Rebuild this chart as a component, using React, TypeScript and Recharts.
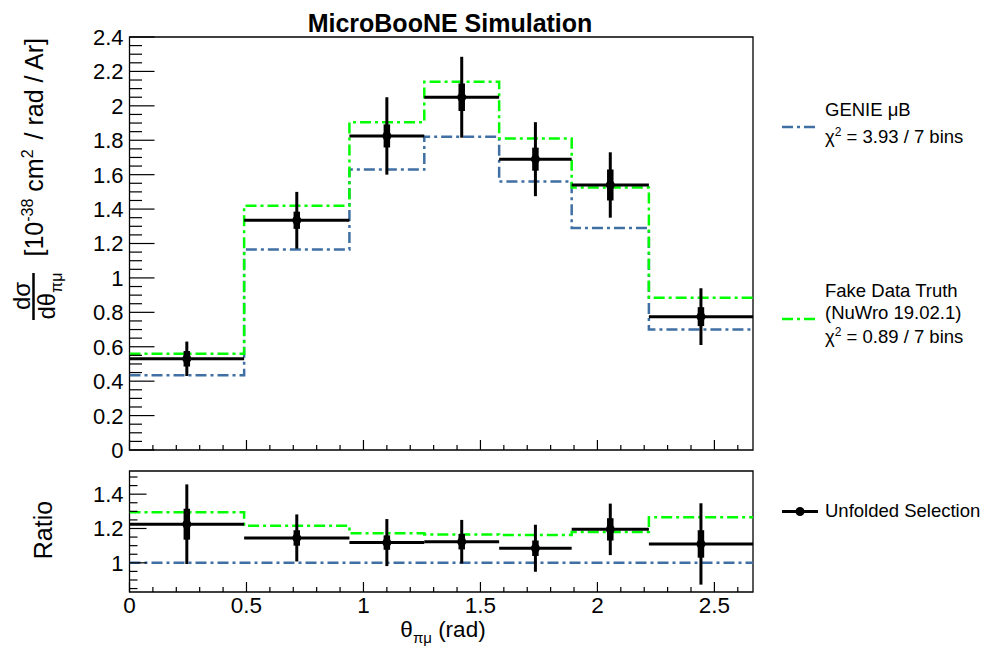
import React from "react";
import {
  ComposedChart,
  Line,
  Scatter,
  XAxis,
  YAxis,
  ErrorBar,
  ReferenceArea,
} from "recharts";

// bin edges in theta_pimu (rad)
const binEdges = [0, 0.49, 0.94, 1.26, 1.58, 1.89, 2.22, 2.665];

// cross section, 10^-38 cm^2 / rad / Ar
const unfolded = [0.53, 1.335, 1.825, 2.05, 1.69, 1.54, 0.775];
const unfoldedTotErr = [0.1, 0.165, 0.225, 0.235, 0.215, 0.19, 0.165];
const unfoldedStatErr = [0.045, 0.05, 0.067, 0.08, 0.067, 0.09, 0.055];
const genie = [0.435, 1.165, 1.63, 1.82, 1.56, 1.29, 0.7];
const nuwro = [0.56, 1.42, 1.905, 2.14, 1.81, 1.525, 0.885];

// ratio to GENIE
const ratioUnfolded = [1.225, 1.145, 1.118, 1.123, 1.085, 1.195, 1.11];
const ratioTotErr = [0.232, 0.137, 0.137, 0.127, 0.137, 0.15, 0.237];
const ratioStatErr = [0.09, 0.045, 0.042, 0.045, 0.045, 0.065, 0.08];
const ratioGenie = [1, 1, 1, 1, 1, 1, 1];
const ratioNuwro = [1.294, 1.216, 1.172, 1.165, 1.162, 1.18, 1.265];

// tick labels
const xMajorTicks = [0, 0.5, 1, 1.5, 2, 2.5];
const yMajorTicksTop = [0, 0.2, 0.4, 0.6, 0.8, 1, 1.2, 1.4, 1.6, 1.8, 2, 2.2, 2.4];
const yMajorTicksRatio = [1, 1.2, 1.4];

const X_MAX = binEdges[binEdges.length - 1];
const TOP_DOMAIN: [number, number] = [0, 2.4];
const RATIO_DOMAIN: [number, number] = [0.83, 1.535];

const FONT = "'Liberation Sans', Arial, Helvetica, sans-serif";
const BLUE = "#3f6fa3";
const GREEN = "#00ff00";
const DASH = "11 4 3 4";

function tickRange(lo: number, hi: number, step: number) {
  const out: number[] = [];
  for (let i = Math.ceil(lo / step - 1e-9); i * step <= hi + 1e-9; i++) {
    out.push(Number((i * step).toFixed(3)));
  }
  return out;
}

const isMajor = (v: number, majors: number[]) => majors.some((m) => Math.abs(m - v) < 1e-6);
const fmt = (v: number) => String(Number(v.toFixed(2)));

const steps = (vals: number[]) =>
  binEdges.map((x, i) => ({ x, y: vals[Math.min(i, vals.length - 1)] }));

const points = (vals: number[], tot: number[], stat: number[]) =>
  vals.map((y, i) => {
    const lo = binEdges[i];
    const hi = binEdges[i + 1];
    const c = (lo + hi) / 2;
    return { x: c, y, ex: [c - lo, hi - c], eTot: tot[i], eStat: stat[i] };
  });

const makeYTick = (majors: number[], majorLen: number, minorLen: number) => (props: any) => {
  const { x, y, payload } = props;
  const v = payload.value;
  const major = isMajor(v, majors);
  return (
    <g>
      <line x1={x} x2={x + (major ? majorLen : minorLen)} y1={y} y2={y} stroke="#000" strokeWidth={1.2} />
      {major && (
        <text x={x - 6} y={y} dy="0.36em" textAnchor="end" fontSize={22} fontFamily={FONT} fill="#000">
          {fmt(v)}
        </text>
      )}
    </g>
  );
};

const makeXTick = (showLabel: boolean) => (props: any) => {
  const { x, y, payload } = props;
  const v = payload.value;
  const major = isMajor(v, xMajorTicks);
  return (
    <g>
      <line x1={x} x2={x} y1={y} y2={y - (major ? 10 : 5)} stroke="#000" strokeWidth={1.2} />
      {showLabel && major && (
        <text x={x} y={y + 21} textAnchor="middle" fontSize={22.5} fontFamily={FONT} fill="#000">
          {fmt(v)}
        </text>
      )}
    </g>
  );
};

const Dot = (p: any) => <circle cx={p.cx} cy={p.cy} r={4.5} fill="#000" />;

const xTicks = tickRange(0, X_MAX, 0.1);
const topYTicks = tickRange(TOP_DOMAIN[0], TOP_DOMAIN[1], 0.05);
const ratioYTicks = tickRange(RATIO_DOMAIN[0], RATIO_DOMAIN[1], 0.05);

function Panel(props: {
  height: number;
  margin: { top: number; right: number; bottom: number; left: number };
  xHeight: number;
  domain: [number, number];
  yTicks: number[];
  yMajors: number[];
  majorLen: number;
  minorLen: number;
  showXLabels: boolean;
  genieVals: number[];
  nuwroVals: number[];
  dataVals: number[];
  tot: number[];
  stat: number[];
}) {
  return (
    <ComposedChart width={987} height={props.height} margin={props.margin}>
      <XAxis
        type="number"
        dataKey="x"
        domain={[0, X_MAX]}
        allowDataOverflow
        ticks={xTicks}
        interval={0}
        height={props.xHeight}
        tickSize={0}
        tickMargin={0}
        axisLine={false}
        tickLine={false}
        tick={makeXTick(props.showXLabels)}
      />
      <YAxis
        type="number"
        domain={props.domain}
        allowDataOverflow
        ticks={props.yTicks}
        interval={0}
        width={60}
        tickSize={0}
        tickMargin={0}
        axisLine={false}
        tickLine={false}
        tick={makeYTick(props.yMajors, props.majorLen, props.minorLen)}
      />
      <ReferenceArea
        x1={0}
        x2={X_MAX}
        y1={props.domain[0]}
        y2={props.domain[1]}
        fill="none"
        stroke="#000"
        strokeWidth={1.3}
        ifOverflow="visible"
      />
      <Line
        data={steps(props.genieVals)}
        dataKey="y"
        type="stepAfter"
        stroke={BLUE}
        strokeWidth={2.5}
        strokeDasharray={DASH}
        dot={false}
        isAnimationActive={false}
      />
      <Line
        data={steps(props.nuwroVals)}
        dataKey="y"
        type="stepAfter"
        stroke={GREEN}
        strokeWidth={2.5}
        strokeDasharray={DASH}
        dot={false}
        isAnimationActive={false}
      />
      <Scatter
        data={points(props.dataVals, props.tot, props.stat)}
        dataKey="y"
        fill="#000"
        shape={Dot}
        isAnimationActive={false}
      >
        <ErrorBar dataKey="ex" direction="x" width={0} stroke="#000" strokeWidth={3} />
        <ErrorBar dataKey="eTot" direction="y" width={0} stroke="#000" strokeWidth={3} />
        <ErrorBar dataKey="eStat" direction="y" width={0} stroke="#000" strokeWidth={6.5} />
      </Scatter>
    </ComposedChart>
  );
}

function Overlay() {
  const t = { fontFamily: FONT, fill: "#000" };
  return (
    <svg width={987} height={654} style={{ position: "absolute", left: 0, top: 0, pointerEvents: "none" }}>
      <text x={450} y={32} textAnchor="middle" fontSize={25} fontWeight="bold" {...t}>
        MicroBooNE Simulation
      </text>

      {/* y title, top panel */}
      <text transform="translate(30,296) rotate(-90)" textAnchor="middle" fontSize={24} {...t}>
        dσ
      </text>
      <line x1={33.5} x2={33.5} y1={273} y2={320} stroke="#000" strokeWidth={2.5} />
      <text transform="translate(55,296) rotate(-90)" textAnchor="middle" fontSize={24} {...t}>
        dθ
        <tspan fontSize={16} dy={7}>πμ</tspan>
      </text>
      <text transform="translate(43,38) rotate(-90)" textAnchor="end" fontSize={25} {...t}>
        [10
        <tspan fontSize={16} dy={-10}>-38</tspan>
        <tspan dy={10}> cm</tspan>
        <tspan fontSize={16} dy={-10}>2</tspan>
        <tspan dy={10} dx={10}>/ rad / Ar]</tspan>
      </text>

      {/* y title, ratio panel */}
      <text transform="translate(52,530) rotate(-90)" textAnchor="middle" fontSize={25} {...t}>
        Ratio
      </text>

      {/* x title */}
      <text x={443} y={637} textAnchor="middle" fontSize={22.5} {...t}>
        θ
        <tspan fontSize={15} dy={6}>πμ</tspan>
        <tspan dy={-6}> (rad)</tspan>
      </text>

      {/* legend */}
      <line x1={782} x2={818} y1={127} y2={127} stroke={BLUE} strokeWidth={2.5} strokeDasharray={DASH} />
      <text x={825} y={116} fontSize={18.5} {...t}>GENIE μB</text>
      <text x={825} y={143} fontSize={18.5} {...t}>
        χ<tspan fontSize={12} dy={-7}>2</tspan>
        <tspan dy={7}> = 3.93 / 7 bins</tspan>
      </text>

      <line x1={782} x2={818} y1={319} y2={319} stroke={GREEN} strokeWidth={2.5} strokeDasharray={DASH} />
      <text x={825} y={297} fontSize={18.5} {...t}>Fake Data Truth</text>
      <text x={825} y={319} fontSize={18.5} {...t}>(NuWro 19.02.1)</text>
      <text x={825} y={343} fontSize={18.5} {...t}>
        χ<tspan fontSize={12} dy={-7}>2</tspan>
        <tspan dy={7}> = 0.89 / 7 bins</tspan>
      </text>

      <line x1={782} x2={818} y1={511.5} y2={511.5} stroke="#000" strokeWidth={3} />
      <circle cx={800} cy={511.5} r={4.5} fill="#000" />
      <text x={825} y={517} fontSize={18.5} {...t}>Unfolded Selection</text>
    </svg>
  );
}

export default function App() {
  return (
    <div style={{ position: "absolute", left: 0, top: 0, width: 987, height: 654, background: "#fff" }}>
      <div style={{ position: "absolute", left: 0, top: 0 }}>
        <Panel
          height={470}
          margin={{ top: 37, right: 234, bottom: 0, left: 69.5 }}
          xHeight={20}
          domain={TOP_DOMAIN}
          yTicks={topYTicks}
          yMajors={yMajorTicksTop}
          majorLen={25}
          minorLen={12.5}
          showXLabels={false}
          genieVals={genie}
          nuwroVals={nuwro}
          dataVals={unfolded}
          tot={unfoldedTotErr}
          stat={unfoldedStatErr}
        />
      </div>
      <div style={{ position: "absolute", left: 0, top: 460 }}>
        <Panel
          height={194}
          margin={{ top: 11, right: 234, bottom: 0, left: 69.5 }}
          xHeight={62}
          domain={RATIO_DOMAIN}
          yTicks={ratioYTicks}
          yMajors={yMajorTicksRatio}
          majorLen={17}
          minorLen={8}
          showXLabels={true}
          genieVals={ratioGenie}
          nuwroVals={ratioNuwro}
          dataVals={ratioUnfolded}
          tot={ratioTotErr}
          stat={ratioStatErr}
        />
      </div>
      <Overlay />
    </div>
  );
}
